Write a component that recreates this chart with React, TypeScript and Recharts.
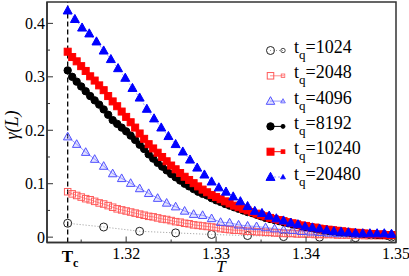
import React from 'react';
import { LineChart, Line, XAxis, YAxis, ReferenceLine, ReferenceArea } from 'recharts';

// critical temperature, marked by the dashed line
const T_C = 1.3135;

// temperature step of each run (the grids all start at T_C)
const STEP_1024 = 0.004;
const STEP_4096 = 0.001;
const STEP_20480 = 0.0008;
const STEP_DENSE = 0.0005;

// gamma(L)
const g1024 = [0.026, 0.019, 0.011, 0.008, 0.005, 0.003, 0.001, 0.0, -0.001, 0.0];

const g2048 = [
    0.085, 0.081, 0.078, 0.075, 0.072, 0.070, 0.067, 0.064, 0.062, 0.059,
    0.056, 0.053, 0.051, 0.049, 0.047, 0.045, 0.043, 0.041, 0.039, 0.038,
    0.036, 0.034, 0.033, 0.031, 0.029, 0.028, 0.026, 0.025, 0.023, 0.022,
    0.021, 0.020, 0.019, 0.018, 0.016, 0.015, 0.014, 0.013, 0.013, 0.012,
    0.011, 0.011, 0.010, 0.010, 0.009, 0.009, 0.008, 0.008, 0.007, 0.007,
    0.007, 0.006, 0.006, 0.006, 0.006, 0.005, 0.005, 0.005, 0.005, 0.005,
    0.004, 0.004, 0.004, 0.004, 0.004, 0.004, 0.003, 0.003, 0.003, 0.003,
    0.003, 0.003, 0.003,
];

const g4096 = [
    0.188, 0.174, 0.159, 0.146, 0.133, 0.119, 0.110, 0.101, 0.091, 0.082,
    0.073, 0.064, 0.057, 0.049, 0.043, 0.041, 0.035, 0.028, 0.027, 0.023,
    0.021, 0.020, 0.018, 0.016, 0.014, 0.013, 0.011, 0.010, 0.009, 0.008,
    0.007, 0.007, 0.006, 0.006, 0.005, 0.005, 0.005,
];

const g8192 = [
    0.312, 0.300, 0.291, 0.282, 0.273, 0.264, 0.256, 0.248, 0.239, 0.229,
    0.219, 0.212, 0.205, 0.198, 0.190, 0.182, 0.173, 0.165, 0.155, 0.147,
    0.139, 0.132, 0.125, 0.118, 0.112, 0.106, 0.100, 0.095, 0.090, 0.085,
    0.081, 0.078, 0.073, 0.069, 0.066, 0.062, 0.059, 0.056, 0.053, 0.050,
    0.047, 0.045, 0.042, 0.039, 0.036, 0.034, 0.032, 0.030, 0.028, 0.026,
    0.024, 0.023, 0.021, 0.019, 0.018, 0.016, 0.015, 0.013, 0.012, 0.011,
    0.010, 0.009, 0.009, 0.008, 0.007, 0.007, 0.006, 0.005, 0.005, 0.004,
    0.004, 0.003, 0.003,
];

const g10240 = [
    0.347, 0.337, 0.329, 0.320, 0.311, 0.301, 0.293, 0.284, 0.275, 0.264,
    0.254, 0.245, 0.235, 0.225, 0.215, 0.205, 0.194, 0.184, 0.174, 0.166,
    0.158, 0.150, 0.142, 0.134, 0.127, 0.120, 0.113, 0.107, 0.101, 0.095,
    0.089, 0.084, 0.079, 0.075, 0.071, 0.067, 0.063, 0.059, 0.056, 0.053,
    0.050, 0.047, 0.044, 0.041, 0.039, 0.036, 0.034, 0.032, 0.030, 0.028,
    0.026, 0.024, 0.022, 0.021, 0.019, 0.018, 0.016, 0.015, 0.014, 0.013,
    0.012, 0.011, 0.010, 0.009, 0.008, 0.008, 0.007, 0.006, 0.006, 0.005,
    0.005, 0.004, 0.004,
];

const g20480 = [
    0.424, 0.408, 0.392, 0.381, 0.366, 0.349, 0.333, 0.316, 0.298, 0.279,
    0.261, 0.240, 0.222, 0.205, 0.189, 0.174, 0.160, 0.145, 0.130, 0.117,
    0.104, 0.093, 0.085, 0.076, 0.067, 0.058, 0.049, 0.045, 0.040, 0.035,
    0.031, 0.027, 0.024, 0.020, 0.018, 0.016, 0.013, 0.011, 0.010, 0.009,
    0.008, 0.007, 0.007, 0.007, 0.007, 0.006,
];

const X_DOMAIN = [1.3112, 1.35];
const Y_DOMAIN = [-0.01, 0.44];
const X_MAJOR = [1.32, 1.33, 1.34, 1.35];
const X_LABELS = ['1.32', '1.33', '1.34', '1.35'];
const X_MINOR = [1.315, 1.325, 1.335, 1.345];
const Y_MAJOR = [0, 0.1, 0.2, 0.3, 0.4];
const Y_LABELS = ['0', '0.1', '0.2', '0.3', '0.4'];
const Y_MINOR = [0.05, 0.15, 0.25, 0.35];

const FONT = '"Liberation Serif", "DejaVu Serif", serif';

const toRows = (vals: number[], step: number) =>
    vals.map((g, i) => ({ T: +(T_C + i * step).toFixed(5), g }));

type Shape = 'circle' | 'square' | 'triangle';

const Marker = ({ shape, x, y, size, stroke, fill, sw = 1 }: any) => {
    const h = size / 2;
    if (shape === 'circle') {
        return <circle cx={x} cy={y} r={h} stroke={stroke} fill={fill} strokeWidth={sw} />;
    }
    if (shape === 'square') {
        return <rect x={x - h} y={y - h} width={size} height={size} stroke={stroke} fill={fill} strokeWidth={sw} />;
    }
    const th = size * 0.9;
    const pts = `${x},${y - th * 0.58} ${x - h},${y + th * 0.42} ${x + h},${y + th * 0.42}`;
    return <polygon points={pts} stroke={stroke} fill={fill} strokeWidth={sw} />;
};

const SERIES = [
    { name: '1024', data: toRows(g1024, STEP_1024), shape: 'circle' as Shape, size: 8, stroke: '#222', fill: 'none', line: '#999', dash: '1 2' },
    { name: '2048', data: toRows(g2048, STEP_DENSE), shape: 'square' as Shape, size: 6.5, stroke: '#ff5a5a', fill: 'none', line: '#ff9090', dash: undefined },
    { name: '4096', data: toRows(g4096, STEP_4096), shape: 'triangle' as Shape, size: 8.5, stroke: '#5050ff', fill: 'rgba(140,140,255,0.25)', line: '#9a9aff', dash: undefined },
    { name: '8192', data: toRows(g8192, STEP_DENSE), shape: 'circle' as Shape, size: 7.4, stroke: '#000', fill: '#000', line: '#000', dash: undefined },
    { name: '10240', data: toRows(g10240, STEP_DENSE), shape: 'square' as Shape, size: 7, stroke: '#ff0000', fill: '#ff0000', line: '#ff0000', dash: undefined },
    { name: '20480', data: toRows(g20480, STEP_20480), shape: 'triangle' as Shape, size: 9, stroke: '#0000ff', fill: '#0000ff', line: '#a0a0ff', dash: '2 2' },
];

const near = (a: number, b: number) => Math.abs(a - b) < 1e-6;

const XTick = (props: any) => {
    const { x, y, payload } = props;
    const v = payload.value;
    if (near(v, T_C)) {
        return (
            <text x={x - 6} y={y + 19} fontFamily={FONT} fontSize={17} fontWeight="bold" fill="#000">
                T<tspan dy={5} fontSize={12}>c</tspan>
            </text>
        );
    }
    const idx = X_MAJOR.findIndex((m) => near(m, v));
    if (idx >= 0) {
        return (
            <g>
                <line x1={x} x2={x} y1={y} y2={y - 6} stroke="#333" strokeWidth={1} />
                <text x={x} y={y + 16} textAnchor="middle" fontFamily={FONT} fontSize={16} fill="#000">
                    {X_LABELS[idx]}
                </text>
            </g>
        );
    }
    return <line x1={x} x2={x} y1={y} y2={y - 3} stroke="#333" strokeWidth={1} />;
};

const YTick = (props: any) => {
    const { x, y, payload } = props;
    const idx = Y_MAJOR.findIndex((m) => near(m, payload.value));
    if (idx >= 0) {
        return (
            <g>
                <line x1={x} x2={x + 6} y1={y} y2={y} stroke="#333" strokeWidth={1} />
                <text x={x - 2} y={y + 5.5} textAnchor="end" fontFamily={FONT} fontSize={16} fill="#000">
                    {Y_LABELS[idx]}
                </text>
            </g>
        );
    }
    return <line x1={x} x2={x + 3} y1={y} y2={y} stroke="#333" strokeWidth={1} />;
};

const makeDot = (s: typeof SERIES[number]) => (props: any) => {
    const { cx, cy, index } = props;
    if (cx == null || cy == null) return <g key={`${s.name}-${index}`} />;
    return (
        <Marker key={`${s.name}-${index}`} shape={s.shape} x={cx} y={cy} size={s.size} stroke={s.stroke} fill={s.fill} />
    );
};

const Legend = () => (
    <g>
        {SERIES.map((s, i) => {
            const base = 53 + i * 25.3;
            const my = base - 2.5;
            return (
                <g key={s.name}>
                    <line x1={270} x2={284} y1={my} y2={my} stroke={s.line} strokeWidth={1} strokeDasharray={s.dash} />
                    <Marker shape={s.shape} x={270.5} y={my} size={s.size} stroke={s.stroke} fill={s.fill} />
                    <Marker shape={s.shape} x={283} y={my} size={s.size * 0.55} stroke={s.stroke} fill={s.fill} sw={0.8} />
                    <text x={294} y={base} fontFamily={FONT} fontSize={18} fill="#000">
                        t
                        <tspan dy={6} fontSize={13}>q</tspan>
                        <tspan dy={-6}>={s.name}</tspan>
                    </text>
                </g>
            );
        })}
    </g>
);

export default function App() {
    return (
        <div style={{ position: 'fixed', left: 0, top: 0, width: 409, height: 276, background: '#fff' }}>
            <LineChart width={409} height={276} margin={{ top: 2, right: 13, bottom: 0, left: 0 }}>
                <XAxis
                    type="number"
                    dataKey="T"
                    domain={X_DOMAIN}
                    allowDataOverflow
                    ticks={[T_C, ...X_MINOR, ...X_MAJOR]}
                    interval={0}
                    height={33.5}
                    tickSize={0}
                    tickMargin={0}
                    tick={<XTick />}
                    axisLine={{ stroke: '#333', strokeWidth: 1.5 }}
                />
                <YAxis
                    type="number"
                    dataKey="g"
                    domain={Y_DOMAIN}
                    allowDataOverflow
                    ticks={[...Y_MAJOR, ...Y_MINOR]}
                    interval={0}
                    width={47}
                    tickSize={0}
                    tickMargin={0}
                    tick={<YTick />}
                    axisLine={{ stroke: '#333', strokeWidth: 1.5 }}
                />
                <ReferenceArea
                    x1={X_DOMAIN[0]}
                    x2={X_DOMAIN[1]}
                    y1={Y_DOMAIN[0]}
                    y2={Y_DOMAIN[1]}
                    fill="none"
                    stroke="#333"
                    strokeWidth={1.5}
                    ifOverflow="visible"
                />
                <ReferenceLine x={T_C} stroke="#000" strokeWidth={1.3} strokeDasharray="5 3" />
                {SERIES.map((s) => (
                    <Line
                        key={s.name}
                        data={s.data}
                        dataKey="g"
                        type="linear"
                        stroke={s.line}
                        strokeWidth={1}
                        strokeDasharray={s.dash}
                        dot={makeDot(s)}
                        activeDot={false}
                        isAnimationActive={false}
                    />
                ))}
            </LineChart>
            <svg width={409} height={276} style={{ position: 'absolute', left: 0, top: 0, pointerEvents: 'none' }}>
                <Legend />
                <text
                    transform="translate(18,125) rotate(-90)"
                    textAnchor="middle"
                    fontFamily={FONT}
                    fontSize={18}
                    fontStyle="italic"
                    fill="#000"
                >
                    γ(L)
                </text>
                <text x={221} y={272} textAnchor="middle" fontFamily={FONT} fontSize={17} fontStyle="italic" fill="#000">
                    T
                </text>
            </svg>
        </div>
    );
}
